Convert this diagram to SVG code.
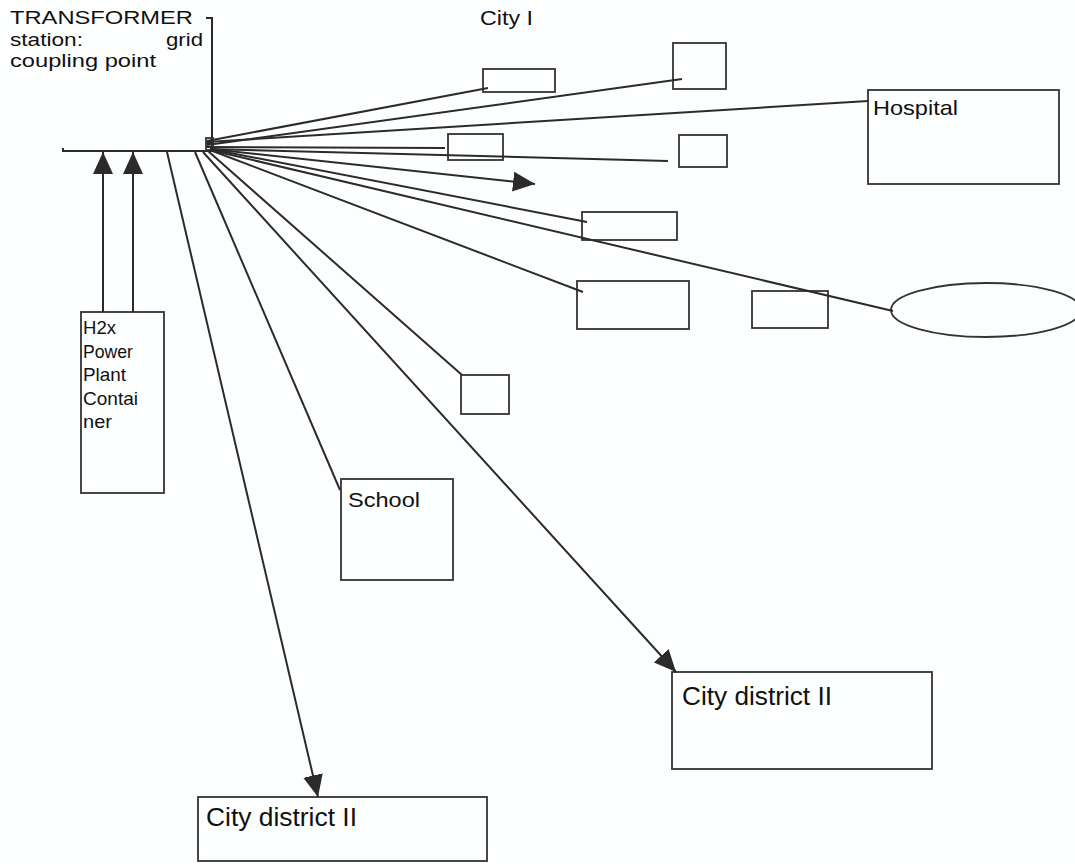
<svg xmlns="http://www.w3.org/2000/svg" width="1075" height="864" viewBox="0 0 1075 864">
<style>
.bg{fill:#fdfefe}
.box{fill:none;stroke:#333;stroke-width:1.8}
.ln{fill:none;stroke:#2b2b2b;stroke-width:2}
.t{font-family:"Liberation Sans",Arial,sans-serif;font-size:21px;fill:#111}
.ts{font-family:"Liberation Sans",Arial,sans-serif;font-size:19px;fill:#111}
.tb{font-family:"Liberation Sans",Arial,sans-serif;font-size:26px;fill:#111}
</style>
<defs>
<marker id="ah" markerUnits="userSpaceOnUse" markerWidth="22" markerHeight="20" refX="22" refY="10" orient="auto">
<path d="M0,0 L22,10 L0,20 Z" fill="#2b2b2b"/>
</marker>
</defs>
<rect class="bg" x="0" y="0" width="1075" height="864"/>

<g id="transformer">
<text class="ts" x="10" y="24" textLength="183" lengthAdjust="spacingAndGlyphs">TRANSFORMER</text>
<text class="ts" x="10" y="46" textLength="73" lengthAdjust="spacingAndGlyphs">station:</text>
<text class="ts" x="166" y="46" textLength="37" lengthAdjust="spacingAndGlyphs">grid</text>
<text class="ts" x="10" y="67" textLength="146" lengthAdjust="spacingAndGlyphs">coupling point</text>
<path class="ln" d="M206,18 L212,18 L212,150"/>
<path class="ln" d="M63,148 L63,151 L212,151"/>
<rect class="box" x="206" y="138" width="7" height="12"/>
<path class="ln" d="M206,143 H213 M206,147 H213" stroke-width="1.5"/>
</g>

<g id="city1"><text class="t" x="480" y="25" textLength="53" lengthAdjust="spacingAndGlyphs">City I</text></g>

<g id="boxA"><rect class="box" x="483" y="69" width="72" height="23"/></g>
<g id="boxB"><rect class="box" x="673" y="43" width="53" height="46"/></g>
<g id="hospital"><rect class="box" x="868" y="90" width="191" height="94"/>
<text class="t" x="873" y="115" textLength="85" lengthAdjust="spacingAndGlyphs">Hospital</text></g>
<g id="boxC"><rect class="box" x="448" y="134" width="55" height="26"/></g>
<g id="boxD"><rect class="box" x="679" y="135" width="48" height="32"/></g>
<g id="boxE"><rect class="box" x="582" y="212" width="95" height="28"/></g>
<g id="boxF"><rect class="box" x="577" y="281" width="112" height="48"/></g>
<g id="boxG"><rect class="box" x="752" y="291" width="76" height="37"/></g>
<g id="ellipse"><ellipse class="box" cx="986" cy="310" rx="95" ry="27"/></g>
<g id="boxH"><rect class="box" x="461" y="375" width="48" height="39"/></g>
<g id="school"><rect class="box" x="341" y="479" width="112" height="101"/>
<text class="t" x="348" y="507" textLength="72" lengthAdjust="spacingAndGlyphs">School</text></g>
<g id="h2x"><rect class="box" x="81" y="312" width="83" height="181"/>
<text class="ts" x="83" y="334" textLength="33" lengthAdjust="spacingAndGlyphs">H2x</text>
<text class="ts" x="83" y="358" textLength="50" lengthAdjust="spacingAndGlyphs">Power</text>
<text class="ts" x="83" y="381" textLength="43" lengthAdjust="spacingAndGlyphs">Plant</text>
<text class="ts" x="83" y="405" textLength="55" lengthAdjust="spacingAndGlyphs">Contai</text>
<text class="ts" x="83" y="428" textLength="29" lengthAdjust="spacingAndGlyphs">ner</text></g>
<g id="district2a"><rect class="box" x="672" y="672" width="260" height="97"/>
<text class="tb" x="682" y="705" textLength="150" lengthAdjust="spacingAndGlyphs">City district II</text></g>
<g id="district2b"><rect class="box" x="198" y="797" width="289" height="64"/>
<text class="tb" x="206" y="826" textLength="151" lengthAdjust="spacingAndGlyphs">City district II</text></g>

<g id="connectors">
<line class="ln" x1="207" y1="141" x2="488" y2="88"/>
<line class="ln" x1="207" y1="145" x2="682" y2="79"/>
<line class="ln" x1="207" y1="142" x2="868" y2="101"/>
<line class="ln" x1="207" y1="147" x2="445" y2="148"/>
<line class="ln" x1="210" y1="149" x2="668" y2="161"/>
<line class="ln" x1="210" y1="149" x2="535" y2="184" marker-end="url(#ah)"/>
<line class="ln" x1="210" y1="149" x2="587" y2="222"/>
<line class="ln" x1="210" y1="150" x2="893" y2="311"/>
<line class="ln" x1="210" y1="150" x2="583" y2="292"/>
<line class="ln" x1="208" y1="151" x2="462" y2="375"/>
<line class="ln" x1="203" y1="152" x2="676" y2="672" marker-end="url(#ah)"/>
<line class="ln" x1="195" y1="152" x2="340" y2="490"/>
<line class="ln" x1="167" y1="152" x2="318" y2="797" marker-end="url(#ah)"/>
<line class="ln" x1="103" y1="312" x2="103" y2="152" marker-end="url(#ah)"/>
<line class="ln" x1="133" y1="312" x2="133" y2="152" marker-end="url(#ah)"/>
</g>
</svg>
